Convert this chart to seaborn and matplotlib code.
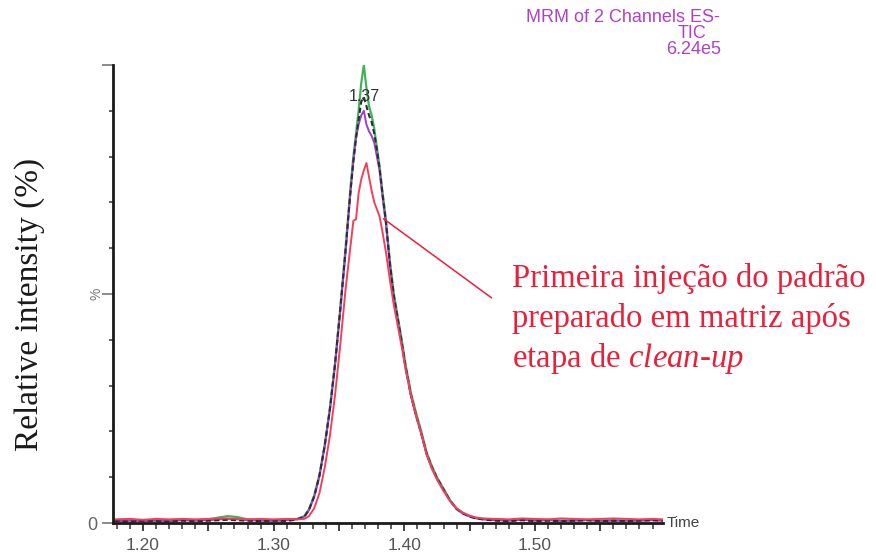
import numpy as np
import pandas as pd
import matplotlib
matplotlib.use("Agg")
import matplotlib.pyplot as plt
from matplotlib.ticker import MultipleLocator, FuncFormatter
import seaborn as sns

# Retention time (min)
time_min = [
    1.178, 1.190, 1.200, 1.210, 1.220, 1.230, 1.240, 1.250, 1.258, 1.265, 1.272, 1.280, 1.290, 1.300, 1.310, 1.318,
    1.3235, 1.327, 1.331, 1.335, 1.339, 1.343, 1.347, 1.351, 1.355,
    1.357, 1.359, 1.361, 1.363, 1.365, 1.367, 1.369, 1.371, 1.373, 1.375, 1.377, 1.379, 1.381, 1.383,
    1.386, 1.389, 1.392, 1.395, 1.398, 1.401,
    1.405, 1.409, 1.413, 1.417, 1.421, 1.425,
    1.430, 1.435, 1.440, 1.445, 1.450, 1.455, 1.460,
    1.470, 1.480, 1.490, 1.500, 1.510, 1.520, 1.530, 1.540, 1.550, 1.560, 1.570, 1.580, 1.590, 1.598,
]

# Relative intensity (%) of each TIC trace
tic_green = [
    0.5, 0.6, 0.4, 0.6, 0.5, 0.7, 0.6, 0.8, 1.2, 1.5, 1.3, 0.8, 0.6, 0.5, 0.7, 0.9,
    1.5, 3.0, 6.0, 10.5, 17, 25, 35, 47, 60,
    67, 74, 80, 85, 90, 96, 100, 95, 91, 89, 86, 82, 78, 73,
    66, 57, 50, 45, 40, 34.5,
    28.5, 24, 20, 15.5, 12.5, 10,
    7.5, 5.0, 3.2, 2.2, 1.5, 1.1, 0.9,
    0.7, 0.6, 0.8, 0.6, 0.7, 0.5, 0.6, 0.7, 0.5, 0.6, 0.5, 0.6, 0.7, 0.6,
]
tic_dark = [
    0.4, 0.3, 0.5, 0.4, 0.3, 0.5, 0.4, 0.5, 0.6, 0.7, 0.6, 0.5, 0.4, 0.5, 0.4, 0.8,
    1.4, 2.9, 5.8, 10.3, 16.8, 24.8, 34.8, 46.8, 59.5,
    66.5, 73, 79, 84, 88, 92, 93, 91, 89, 87.5, 85, 81.5, 77.5, 72.5,
    65.5, 56.5, 49.5, 44.5, 39.5, 34,
    28, 23.5, 19.5, 15.2, 12.2, 9.8,
    7.3, 4.9, 3.1, 2.1, 1.4, 1.0, 0.8,
    0.5, 0.4, 0.6, 0.4, 0.5, 0.4, 0.5, 0.6, 0.4, 0.5, 0.4, 0.5, 0.6, 0.5,
]
tic_purple = [
    0.4, 0.5, 0.4, 0.5, 0.4, 0.6, 0.5, 0.6, 0.8, 0.9, 0.8, 0.6, 0.5, 0.5, 0.6, 0.8,
    1.4, 2.8, 5.7, 10.2, 16.6, 24.6, 34.5, 46.5, 59,
    66, 73, 79, 84, 87, 89, 90, 87, 85.5, 84.5, 83, 80, 77, 72,
    65, 56, 49, 44, 39, 33.8,
    27.8, 23.3, 19.4, 15, 12, 9.6,
    7.2, 4.8, 3.0, 2.0, 1.4, 1.0, 0.8,
    0.6, 0.5, 0.7, 0.5, 0.6, 0.5, 0.5, 0.6, 0.5, 0.5, 0.5, 0.5, 0.6, 0.5,
]
tic_red = [
    0.8, 0.9, 0.7, 0.9, 0.8, 0.9, 0.8, 0.9, 1.0, 1.0, 0.9, 0.8, 0.9, 0.8, 0.9, 0.8,
    0.9, 1.5, 3.2, 6.5, 12, 19, 28, 39, 51,
    56, 61, 66, 66.3, 72, 75, 77, 78.6, 75.5, 72.5, 70, 68.5, 67, 64,
    59, 53, 47.5, 43, 38.5, 33.5,
    28, 23.5, 19.5, 15, 12, 9.5,
    7.0, 4.8, 3.2, 2.2, 1.6, 1.2, 1.0,
    0.9, 0.8, 1.0, 0.9, 0.8, 1.0, 0.9, 0.8, 0.9, 1.0, 0.9, 0.8, 0.9, 0.8,
]

x_labels = {1.20: "1.20", 1.30: "1.30", 1.40: "1.40", 1.50: "1.50"}
header_lines = ["MRM of 2 Channels ES-", "TIC", "6.24e5"]
note_lines = ["Primeira injeção do padrão", "preparado em matriz após",
              "etapa de $\\mathit{clean}$-$\\mathit{up}$"]

sns.set_theme(style="white")
plt.rcParams["font.family"] = ["Liberation Sans", "DejaVu Sans"]
plt.rcParams["mathtext.fontset"] = "custom"
plt.rcParams["mathtext.rm"] = "Liberation Serif"
plt.rcParams["mathtext.it"] = "Liberation Serif:italic"

W, H = 876, 556
fig = plt.figure(figsize=(W / 100, H / 100), dpi=100)
ax = fig.add_axes([113 / W, 33 / H, (663 - 113) / W, (523 - 65) / H])

df = pd.DataFrame({"time": time_min, "green": tic_green, "dark": tic_dark,
                   "purple": tic_purple, "red": tic_red})

sns.lineplot(data=df, x="time", y="green", ax=ax, color="#42b258", lw=1.6)
sns.lineplot(data=df, x="time", y="purple", ax=ax, color="#9a3fcf", lw=1.4)
sns.lineplot(data=df, x="time", y="dark", ax=ax, color="#2e2e2e", lw=1.5,
             linestyle=(0, (2.5, 1.5)))
sns.lineplot(data=df, x="time", y="red", ax=ax, color="#f2405c", lw=1.4)

ax.set_xlim(1.177, 1.598)
ax.set_ylim(0, 100)
ax.set_xlabel("")
ax.set_ylabel("")

for side in ("top", "right"):
    ax.spines[side].set_visible(False)
for side in ("left", "bottom"):
    ax.spines[side].set_color("#1a1a1a")
    ax.spines[side].set_linewidth(2.0)

# x ticks: majors every 0.05, minors every 0.01, labels every 0.1
ax.xaxis.set_major_locator(MultipleLocator(0.05))
ax.xaxis.set_minor_locator(MultipleLocator(0.01))
ax.xaxis.set_major_formatter(FuncFormatter(
    lambda v, p: next((s for k, s in x_labels.items() if abs(v - k) < 1e-6), "")))
ax.tick_params(axis="x", which="major", direction="out", length=6, width=1.3,
               color="#333333", labelsize=12.5, labelcolor="#555555", pad=5, bottom=True)
ax.tick_params(axis="x", which="minor", direction="out", length=4, width=1.1,
               color="#333333", bottom=True)

# y ticks: every 10 %, the 50 % tick longer and grey, labelled "%"
ax.yaxis.set_major_locator(MultipleLocator(50))
ax.yaxis.set_minor_locator(MultipleLocator(10))
ax.yaxis.set_major_formatter(FuncFormatter(lambda v, p: "0" if v == 0 else ""))
ax.tick_params(axis="y", which="major", direction="out", length=8, width=1.2,
               color="#777777", labelsize=13, labelcolor="#666666", pad=3, left=True)
ax.tick_params(axis="y", which="minor", direction="out", length=3, width=1.1,
               color="#333333", left=True)
ax.annotate("%", xy=(0, 50), xycoords=("axes fraction", "data"),
            xytext=(-12, 0), textcoords="offset points", rotation=90,
            ha="center", va="center", fontsize=10, color="#777777")

# peak apex label
peak_idx = int(np.argmax(tic_green))
peak_t = time_min[peak_idx]
ax.text(peak_t, 91.5, f"{peak_t:.2f}", ha="center", va="bottom",
        fontsize=11.5, color="#333333")

ax.text(1.601, 0, "Time", transform=ax.transData, ha="left", va="center",
        fontsize=11, color="#444444", clip_on=False)

# header
for line, x, y in zip(header_lines, [720, 706, 721], [17, 33, 50]):
    fig.text(x / W, 1 - y / H, line, ha="right", va="center",
             fontsize=13, color="#b040c8")

# axis title
fig.text(30 / W, 1 - 304 / H, "Relative intensity (%)", rotation=90, ha="center",
         va="center", fontsize=24, family=["Liberation Serif"], color="#1a1a1a")

# annotation for the red trace
red_col = "#e8213b"
ax.annotate("", xy=(1.3823, 66.8), xytext=(1.4685, 48.8),
            arrowprops=dict(arrowstyle="-", color=red_col, lw=1.1))
for line, y in zip(note_lines, [278, 318, 358]):
    fig.text(512 / W, 1 - y / H, line, ha="left", va="center", fontsize=23.6,
             family=["Liberation Serif"], color=red_col)

fig.savefig("out.png", dpi=100)
